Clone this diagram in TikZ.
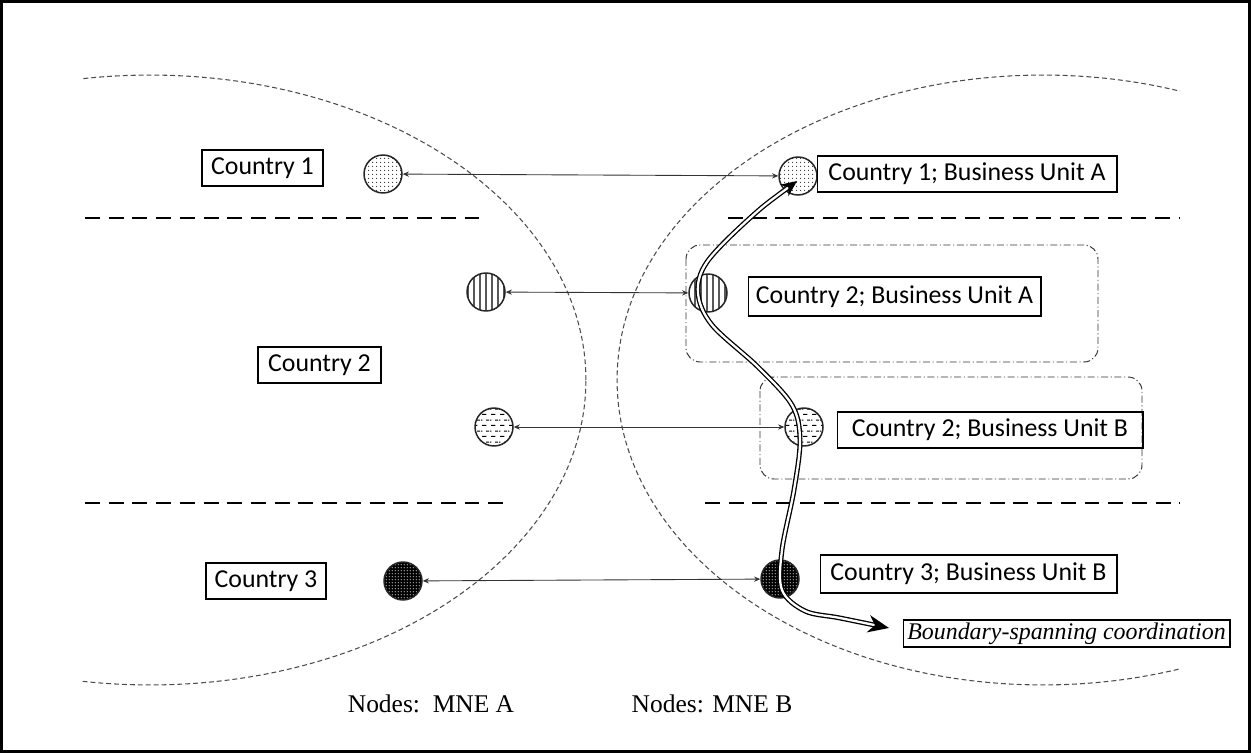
\documentclass[tikz,border=0pt]{standalone}
\usepackage{fontspec}
\setmainfont{Liberation Serif}
\newfontfamily\calfont{Carlito}
\usetikzlibrary{arrows.meta,patterns}
\pgfdeclarepatternformonly{finedots}{\pgfpointorigin}{\pgfpoint{2.3pt}{2.3pt}}{\pgfpoint{2.3pt}{2.3pt}}{\pgfpathcircle{\pgfpoint{1.15pt}{1.15pt}}{0.35pt}\pgfusepath{fill}}
\pgfdeclarepatternformonly{vlinesx}{\pgfpointorigin}{\pgfpoint{3.4pt}{3.4pt}}{\pgfpoint{3.4pt}{3.4pt}}{\pgfsetlinewidth{0.65pt}\pgfpathmoveto{\pgfpoint{1.7pt}{0pt}}\pgfpathlineto{\pgfpoint{1.7pt}{3.4pt}}\pgfusepath{stroke}}
\pgfdeclarepatternformonly{hdashes}{\pgfpointorigin}{\pgfpoint{4.8pt}{6.4pt}}{\pgfpoint{4.8pt}{6.4pt}}{\pgfsetlinewidth{0.7pt}%
\pgfpathmoveto{\pgfpoint{0.6pt}{1.6pt}}\pgfpathlineto{\pgfpoint{3.2pt}{1.6pt}}%
\pgfpathmoveto{\pgfpoint{3.0pt}{4.8pt}}\pgfpathlineto{\pgfpoint{4.8pt}{4.8pt}}%
\pgfpathmoveto{\pgfpoint{0pt}{4.8pt}}\pgfpathlineto{\pgfpoint{0.8pt}{4.8pt}}\pgfusepath{stroke}}
\pgfdeclarepatternformonly{wdots}{\pgfpointorigin}{\pgfpoint{1.8pt}{1.8pt}}{\pgfpoint{1.8pt}{1.8pt}}{\pgfpathcircle{\pgfpoint{0.9pt}{0.9pt}}{0.42pt}\pgfusepath{fill}}
\tikzset{
  ell/.style={draw=black!70, line width=0.6pt, dash pattern=on 2.8pt off 1.7pt},
  sepline/.style={line width=1.5pt, dash pattern=on 8.5pt off 5pt},
  grp/.style={draw=black!80, line width=0.55pt, rounded corners=8pt, dash pattern=on 4pt off 1.5pt on 0.6pt off 1.5pt},
  lbox/.style={draw, line width=0.6pt, font=\calfont\fontsize{14.7}{17}\selectfont, inner sep=0pt},
  unit/.style={circle, draw=black!85, line width=0.85pt, minimum size=0.76cm, inner sep=0pt},
  link/.style={{Stealth[length=3.5pt,width=3pt]}-{Stealth[length=3.5pt,width=3pt]}, line width=0.5pt, draw=black!80},
  flow/.style={double=white, double distance=1.3pt, line width=0.75pt, {Stealth[length=9pt,width=8pt]}-{Stealth[length=12pt,width=10pt]}},
  foot/.style={font=\fontsize{14.5}{17}\selectfont}
}
\begin{document}
\begin{tikzpicture}[x=0.02cm, y=-0.02cm]
\useasboundingbox (0,0) rectangle (1251,753);
\draw[line width=1.2pt] (1.5,1.5) rectangle (1249.5,751.5);
% ellipses
\begin{scope}
\clip (82,0) rectangle (1180,753);
\draw[ell] (150,380) ellipse [x radius=8.72cm, y radius=6.1cm];
\draw[ell] (1043,380) ellipse [x radius=8.52cm, y radius=6.1cm];
\end{scope}
% separators
\draw[sepline] (85,218) -- (487,218);
\draw[sepline] (728,218) -- (1180,218);
\draw[sepline] (85,503) -- (505,503);
\draw[sepline] (705,503) -- (1180,503);
% groups
\draw[grp] (686,245) rectangle (1098,362);
\draw[grp] (760,377) rectangle (1142,479);
% units
\node[unit, pattern=finedots] (a1) at (383,174) {};
\node[unit, pattern=vlinesx] (a2) at (486,292) {};
\node[unit, pattern=hdashes] (a3) at (494,427) {};
\node[unit, preaction={fill=black}, pattern=wdots, pattern color=white!75!black] (a4) at (403,581) {};
\node[unit, pattern=finedots] (b1) at (798,176) {};
\node[unit, pattern=vlinesx] (b2) at (708,293) {};
\node[unit, pattern=hdashes] (b3) at (804,427) {};
\node[unit, preaction={fill=black}, pattern=wdots, pattern color=white!75!black] (b4) at (780,579) {};
% links
\draw[link] (a1) -- (b1);
\draw[link] (a2) -- (b2);
\draw[link] (a3) -- (b3);
\draw[link] (a4) -- (b4);
% labels
\node[lbox, minimum width=2.42cm, minimum height=0.72cm] (lc1) at (262.5,168) {Country 1};
\node[lbox, minimum width=2.46cm, minimum height=0.72cm] (lc2) at (319.5,365) {Country 2};
\node[lbox, minimum width=2.40cm, minimum height=0.72cm] (lc3) at (266,581) {Country 3};
\node[lbox, minimum width=6.00cm, minimum height=0.72cm] (lb1) at (967,174) {Country 1; Business Unit A};
\node[lbox, minimum width=5.86cm, minimum height=0.78cm] (lb2) at (894.5,296.5) {Country 2; Business Unit A};
\node[lbox, minimum width=6.12cm, minimum height=0.72cm] (lb3) at (990,430) {Country 2; Business Unit B};
\node[lbox, minimum width=5.94cm, minimum height=0.76cm] (lb4) at (968.5,574) {Country 3; Business Unit B};
\node[draw, line width=0.6pt, inner sep=0pt, minimum width=6.54cm, minimum height=0.54cm, font=\itshape\fontsize{13.6}{16}\selectfont] (bsc) at (1066.5,633.5) {Boundary-spanning coordination};
% flow
\coordinate (cs) at (797,181);
\coordinate (ce) at (889,628);
\draw[flow] plot[smooth, tension=0.55] coordinates {(cs) (750,218) (707,262) (698,293) (712,325) (758,367) (792,405) (800,440) (794,490) (782,550) (782,590) (805,611) (840,618) (ce)};
% footer
\node[foot] (ma) at (431,704) {Nodes:~~MNE A};
\node[foot] (mb) at (712,704) {Nodes: MNE B};
\end{tikzpicture}
\end{document}
